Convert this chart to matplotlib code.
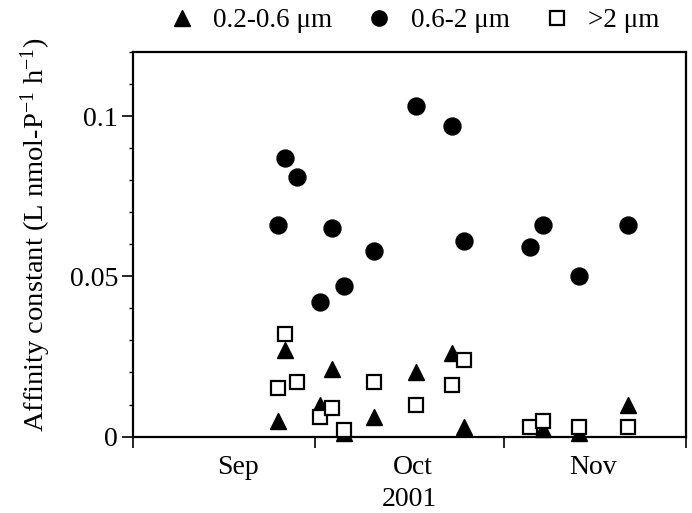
import matplotlib
matplotlib.use("Agg")
import matplotlib.pyplot as plt
from matplotlib.ticker import FixedLocator, MultipleLocator, NullFormatter
from matplotlib.lines import Line2D

plt.rcParams['font.family'] = ['Liberation Serif', 'DejaVu Serif']
plt.rcParams['mathtext.fontset'] = 'custom'
plt.rcParams['mathtext.rm'] = 'Liberation Serif'
plt.rcParams['mathtext.it'] = 'Liberation Serif:italic'

# days since 1 Sep 2001
days_small = [23.9, 24.9, 30.8, 32.8, 34.7, 39.7, 46.6, 52.5, 54.5, 67.5, 73.4, 81.4]
val_small = [0.005, 0.027, 0.010, 0.021, 0.001, 0.006, 0.020, 0.026, 0.003, 0.0025, 0.001, 0.010]

days_mid = [23.9, 24.9, 26.9, 30.8, 32.8, 34.7, 39.7, 46.6, 52.5, 54.5, 65.4, 67.5, 73.4, 81.4]
val_mid = [0.066, 0.087, 0.081, 0.042, 0.065, 0.047, 0.058, 0.103, 0.097, 0.061, 0.059, 0.066, 0.050, 0.066]

days_large = [23.9, 24.9, 26.9, 30.8, 32.8, 34.7, 39.7, 46.6, 52.5, 54.5, 65.4, 67.5, 73.4, 81.4]
val_large = [0.015, 0.032, 0.017, 0.006, 0.009, 0.002, 0.017, 0.010, 0.016, 0.024, 0.003, 0.005, 0.003, 0.003]

labels = ['0.2-0.6 μm', '0.6-2 μm', '>2 μm']
month_edges = [0, 30, 61, 91]
month_label_pos = [17.2, 46.0, 75.7]
month_names = ['Sep', 'Oct', 'Nov']

FS = 20

fig = plt.figure(figsize=(6.92, 5.13), dpi=100)
ax = fig.add_axes([0.1926, 0.149, 0.9913 - 0.1926, 0.8986 - 0.149])

ax.plot(days_mid, val_mid, linestyle='none', marker='o', markersize=12.2,
        color='black', clip_on=False, zorder=3)
ax.plot(days_small, val_small, linestyle='none', marker='^', markersize=12,
        color='black', clip_on=False, zorder=4)
ax.plot(days_large, val_large, linestyle='none', marker='s', markersize=10.5,
        markerfacecolor='white', markeredgecolor='black', markeredgewidth=1.6,
        clip_on=False, zorder=5)

ax.set_xlim(0, 91)
ax.set_ylim(0, 0.12)

ax.xaxis.set_major_locator(FixedLocator(month_edges))
ax.xaxis.set_major_formatter(NullFormatter())
ax.set_xticks(month_label_pos, month_names, minor=True)
ax.tick_params(axis='x', which='major', direction='out', length=8, width=1.2)
ax.tick_params(axis='x', which='minor', length=0, pad=13, labelsize=FS)

ax.set_yticks([0, 0.05, 0.1], ['0', '0.05', '0.1'])
ax.yaxis.set_minor_locator(MultipleLocator(0.01))
ax.tick_params(axis='y', which='major', direction='out', length=8, width=1.2,
               labelsize=FS, pad=3)
ax.tick_params(axis='y', which='minor', direction='out', length=3, width=1.0)

for sp in ax.spines.values():
    sp.set_linewidth(1.6)

ax.set_xlabel('2001', fontsize=FS, labelpad=5)
ax.set_ylabel('Affinity constant (L nmol-P$^{-1}$ h$^{-1}$)', fontsize=FS + 0.5)
ax.yaxis.set_label_coords(-0.145, 0.525)

handles = [
    Line2D([], [], linestyle='none', marker='^', markersize=11, color='black'),
    Line2D([], [], linestyle='none', marker='o', markersize=11, color='black'),
    Line2D([], [], linestyle='none', marker='s', markersize=9.5,
           markerfacecolor='white', markeredgecolor='black', markeredgewidth=1.6),
]
fig.legend(handles, labels, loc='center', bbox_to_anchor=(0.598, 0.96),
           ncol=3, frameon=False, fontsize=19.5, handlelength=1.0,
           handletextpad=0.65, columnspacing=1.25)

fig.savefig('out.png', dpi=100)
